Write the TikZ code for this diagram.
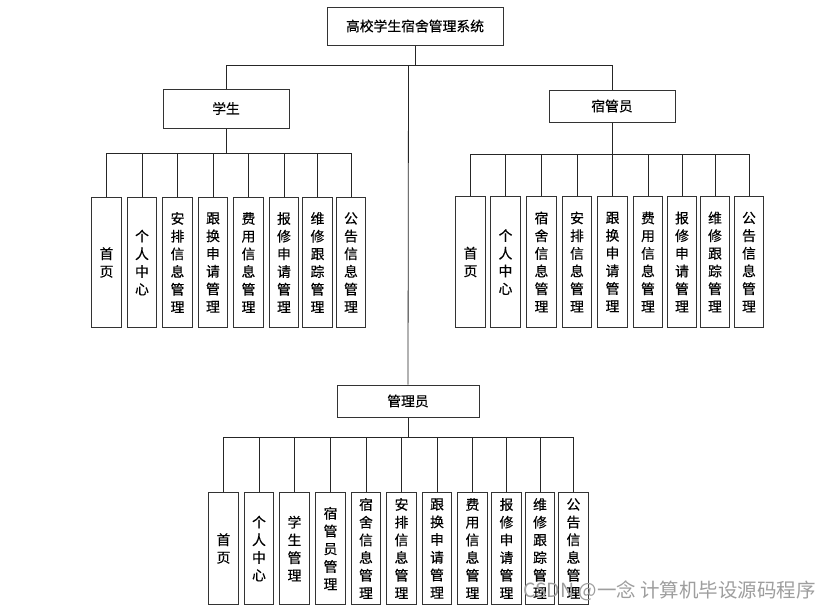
\documentclass[tikz,border=0pt]{standalone}
\usepackage{fontspec}
\setmainfont{Noto Sans CJK SC}
\newfontfamily\cjk[FakeBold=0.4]{Noto Sans CJK SC}
\newfontfamily\cjkwm{Noto Sans CJK SC}
\begin{document}
\begin{tikzpicture}[x=1pt,y=-1pt,
  box/.style={draw=black!80,line width=1pt,fill=white,inner sep=0pt,font=\cjk\fontsize{13.8}{17.7}\selectfont,align=center},
  leaf/.style={box,minimum width=29.5pt,anchor=north},
  conn/.style={draw=black!85,line width=0.8pt}]
\useasboundingbox (0,0) rectangle (839,611);
\fill[white] (0,0) rectangle (839,611);
% top and second level
\node[box,minimum width=176pt,minimum height=38pt] (root) at (415,26) {高校学生宿舍管理系统};
\node[box,minimum width=126pt,minimum height=39pt] (stu) at (226,108.5) {学生};
\node[box,minimum width=126pt,minimum height=32pt] (dm) at (612,106) {宿管员};
\node[box,minimum width=142pt,minimum height=32pt] (adm) at (408,401) {管理员};
\coordinate (j) at (415,65);
\coordinate (jl) at (226,65);
\coordinate (jr) at (612,65);
\coordinate (ja) at (408.5,65);
\draw[conn] (root.south) -- (j);
\draw[conn] (jl) -- (jr);
\draw[conn] (jl) -- (stu.north);
\draw[conn] (jr) -- (dm.north);
\draw[conn] (ja) -- (adm.north);
% student leaves
\foreach \x/\t [count=\i] in {106.5/首\\页, 142/个\\人\\中\\心, 177.5/安\\排\\信\\息\\管\\理, 213/跟\\换\\申\\请\\管\\理, 248.5/费\\用\\信\\息\\管\\理, 284/报\\修\\申\\请\\管\\理, 317.5/维\\修\\跟\\踪\\管\\理, 351/公\\告\\信\\息\\管\\理}
  {\node[leaf,minimum height=130pt] (s\i) at (\x,197) {\t};}
\coordinate (sb) at (226,153);
\draw[conn] (stu.south) -- (sb);
\draw[conn] (s1.north |- sb) -- (s8.north |- sb);
\foreach \i in {1,...,8} \draw[conn] (s\i.north |- sb) -- (s\i.north);
% dorm manager leaves
\foreach \x/\t [count=\i] in {470.5/首\\页, 505.5/个\\人\\中\\心, 541.5/宿\\舍\\信\\息\\管\\理, 577/安\\排\\信\\息\\管\\理, 612.5/跟\\换\\申\\请\\管\\理, 648/费\\用\\信\\息\\管\\理, 682/报\\修\\申\\请\\管\\理, 715/维\\修\\跟\\踪\\管\\理, 749/公\\告\\信\\息\\管\\理}
  {\node[leaf,minimum height=131pt] (d\i) at (\x,196) {\t};}
\coordinate (db) at (612,154);
\draw[conn] (dm.south) -- (db);
\draw[conn] (d1.north |- db) -- (d9.north |- db);
\foreach \i in {1,...,9} \draw[conn] (d\i.north |- db) -- (d\i.north);
% admin leaves
\foreach \x/\t [count=\i] in {223.5/首\\页, 259/个\\人\\中\\心, 294.5/学\\生\\管\\理, 330.5/宿\\管\\员\\管\\理, 366/宿\\舍\\信\\息\\管\\理, 401.5/安\\排\\信\\息\\管\\理, 437/跟\\换\\申\\请\\管\\理, 472.5/费\\用\\信\\息\\管\\理, 506.5/报\\修\\申\\请\\管\\理, 540/维\\修\\跟\\踪\\管\\理, 573.5/公\\告\\信\\息\\管\\理}
  {\node[leaf,minimum height=112pt] (a\i) at (\x,492) {\t};}
\coordinate (ab) at (408,437);
\draw[conn] (adm.south) -- (ab);
\draw[conn] (a1.north |- ab) -- (a11.north |- ab);
\foreach \i in {1,...,11} \draw[conn] (a\i.north |- ab) -- (a\i.north);
% watermark
\node[anchor=west,text=black!38,font=\cjkwm\fontsize{19.5}{22}\selectfont,inner sep=0pt] (wm) at (523,591) {CSDN @一念 计算机毕设源码程序};
\end{tikzpicture}
\end{document}
